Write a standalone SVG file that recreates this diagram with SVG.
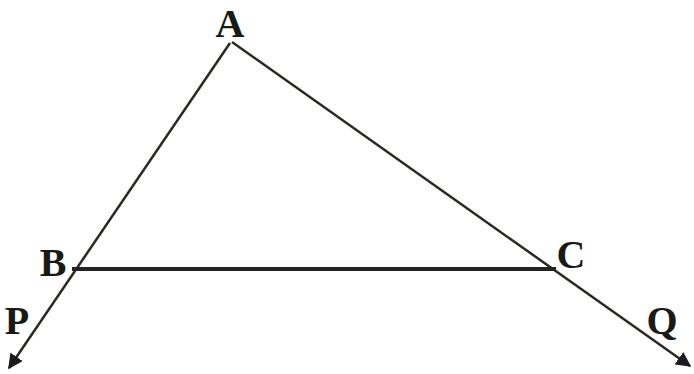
<svg xmlns="http://www.w3.org/2000/svg" width="694" height="374" viewBox="0 0 694 374">
<style>
.lbl{font-family:"Liberation Serif",serif;font-weight:bold;font-size:40px;fill:#1a1a14}
.ln{stroke:#2a2a22;stroke-width:2.5;fill:none}
</style>
<defs>
<marker id="arr" viewBox="0 0 10 10" refX="9" refY="5" markerWidth="6" markerHeight="6" orient="auto" markerUnits="strokeWidth">
<path d="M0,0 L10,5 L0,10 z" fill="#1a1a22"/>
</marker>
</defs>
<rect width="694" height="374" fill="#fff"/>
<g id="connectors">
<line class="ln" x1="230" y1="43" x2="9" y2="368" marker-end="url(#arr)"/>
<line class="ln" x1="232" y1="42" x2="690" y2="366" marker-end="url(#arr)"/>
<line class="ln" x1="72" y1="269" x2="556" y2="269" style="stroke-width:4;stroke:#222"/>
</g>
<g id="A"><text class="lbl" x="230" y="37" text-anchor="middle">A</text></g>
<g id="B"><text class="lbl" x="53" y="276" text-anchor="middle">B</text></g>
<g id="C"><text class="lbl" x="571" y="268" text-anchor="middle">C</text></g>
<g id="P"><text class="lbl" x="17" y="334" text-anchor="middle">P</text></g>
<g id="Q"><text class="lbl" x="662" y="334" text-anchor="middle">Q</text></g>
</svg>
